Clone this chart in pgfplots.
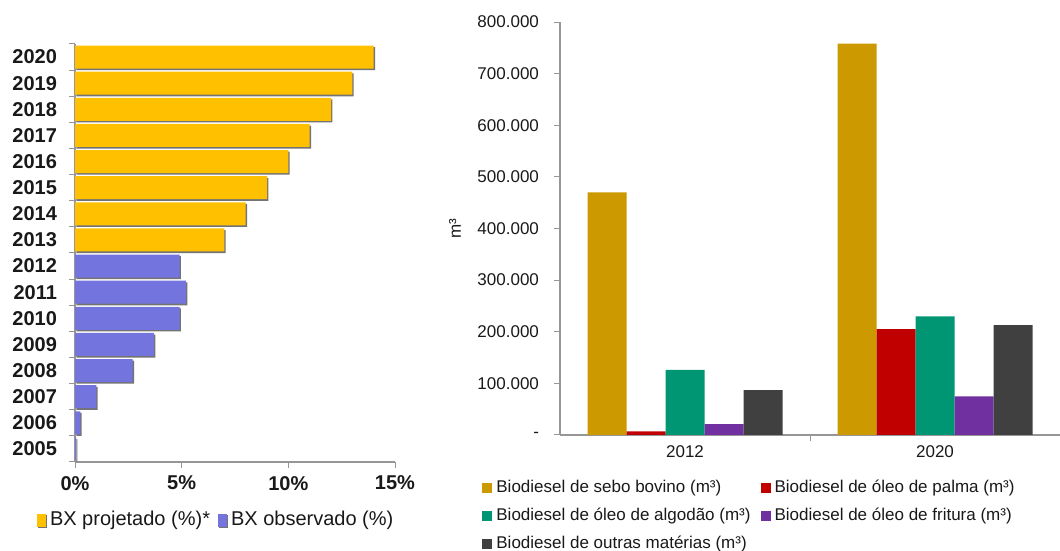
\documentclass[border=0pt]{standalone}
\usepackage{pgfplots}
\pgfplotsset{compat=1.18}
\usepackage{fontspec}
\setmainfont{Liberation Sans}
\definecolor{projY}{RGB}{255,192,0}
\definecolor{obsB}{RGB}{116,116,222}
\definecolor{sebo}{RGB}{204,153,0}
\definecolor{palma}{RGB}{192,0,0}
\definecolor{algodao}{RGB}{0,150,115}
\definecolor{fritura}{RGB}{112,48,160}
\definecolor{outras}{RGB}{64,64,64}
\definecolor{axgray}{RGB}{150,150,150}
\definecolor{txt}{RGB}{25,25,25}
\begin{document}
\begin{tikzpicture}
\path[use as bounding box] (0,0) rectangle (530pt,275.5pt);
% ---------------- left: BX ----------------
\begin{axis}[
  at={(37.5pt,44.5pt)}, anchor=south west,
  scale only axis, width=160pt, height=209pt,
  xbar, bar width=11.5pt, bar shift=0pt,
  xmin=0, xmax=15, ymin=-0.5, ymax=15.5,
  axis x line*=bottom, axis y line*=left,
  axis line style={axgray, line width=0.7pt},
  tick align=outside,
  xtick={0,5,10,15}, xticklabels={0\%,5\%,10\%,15\%},
  ytick={0,1,2,3,4,5,6,7,8,9,10,11,12,13,14,15},
  yticklabels={2005,2006,2007,2008,2009,2010,2011,2012,2013,2014,2015,2016,2017,2018,2019,2020},
  every major y tick/.style={draw=none},
  minor ytick={-0.5,0.5,...,15.5},
  every minor y tick/.style={axgray, line width=0.5pt},
  every major x tick/.style={axgray, line width=0.5pt},
  major tick length=3pt, minor tick length=3pt,
  yticklabel style={font=\bfseries\fontsize{10}{12}\selectfont, text=txt, xshift=-2.5pt},
  xticklabel style={font=\bfseries\fontsize{10}{12}\selectfont, text=txt, yshift=-0.5pt},
  legend columns=2,
  legend style={at={(axis description cs:-0.12,-0.139)}, anchor=west, draw=none,
    font=\fontsize{10}{12}\selectfont, text=txt, inner sep=0pt,
    /tikz/every even column/.append style={column sep=2pt}},
  legend image code/.code={\fill[#1] (0pt,-3.2pt) rectangle (4.5pt,3.2pt);},
]
\addplot[fill=projY, draw=none, preaction={fill=black!55, transform canvas={xshift=0.7pt, yshift=-0.8pt}}]
  coordinates {(7,8) (8,9) (9,10) (10,11) (11,12) (12,13) (13,14) (14,15)};
\addlegendentry{BX projetado (\%)*}
\addplot[fill=obsB, draw=none, preaction={fill=black!55, transform canvas={xshift=0.7pt, yshift=-0.8pt}}]
  coordinates {(0.05,0) (0.25,1) (1.0,2) (2.7,3) (3.7,4) (4.9,5) (5.2,6) (4.9,7)};
\addlegendentry{BX observado (\%)}
\end{axis}
% ---------------- right: biodiesel ----------------
\begin{axis}[
  at={(280pt,58pt)}, anchor=south west,
  scale only axis, width=250pt, height=206.5pt,
  ybar=0pt, bar width=19.5pt,
  xmin=-0.5, xmax=1.5, ymin=0, ymax=800000,
  axis x line*=bottom, axis y line*=left,
  axis line style={axgray, line width=0.7pt},
  tick align=outside,
  xtick={0,1}, xticklabels={2012,2020},
  every major x tick/.style={draw=none},
  minor xtick={0.5},
  every minor x tick/.style={axgray, line width=0.5pt},
  every major y tick/.style={axgray, line width=0.5pt},
  major tick length=3pt, minor tick length=3pt,
  scaled y ticks=false,
  ytick={0,100000,200000,300000,400000,500000,600000,700000,800000},
  yticklabels={{-\hspace{8pt}},100.000,200.000,300.000,400.000,500.000,600.000,700.000,800.000},
  yticklabel style={font=\fontsize{8.5}{10}\selectfont, text=txt, xshift=-4pt},
  xticklabel style={font=\fontsize{8.5}{10}\selectfont, text=txt, yshift=1pt},
  ylabel={m³},
  every axis y label/.style={at={(axis description cs:-0.21,0.5)}, rotate=90, anchor=center,
    font=\fontsize{8.5}{10}\selectfont, text=txt},
  legend columns=2,
  legend cell align=left,
  legend style={at={(axis description cs:-0.156,-0.099)}, anchor=north west, draw=none,
    font=\fontsize{8.5}{10}\selectfont, text=txt, inner sep=0pt, row sep=2.2pt,
    /tikz/every even column/.append style={column sep=3pt}},
  legend image code/.code={\fill[#1] (0pt,-2.6pt) rectangle (5pt,2.6pt);},
]
\addplot[fill=sebo, draw=none] coordinates {(0,470000) (1,758000)};
\addlegendentry{Biodiesel de sebo bovino (m³)}
\addplot[fill=palma, draw=none] coordinates {(0,7000) (1,205000)};
\addlegendentry{Biodiesel de óleo de palma (m³)}
\addplot[fill=algodao, draw=none] coordinates {(0,126000) (1,230000)};
\addlegendentry{Biodiesel de óleo de algodão (m³)}
\addplot[fill=fritura, draw=none] coordinates {(0,21000) (1,75000)};
\addlegendentry{Biodiesel de óleo de fritura (m³)}
\addplot[fill=outras, draw=none] coordinates {(0,87000) (1,213000)};
\addlegendentry{Biodiesel de outras matérias (m³)}
\end{axis}
\end{tikzpicture}
\end{document}
